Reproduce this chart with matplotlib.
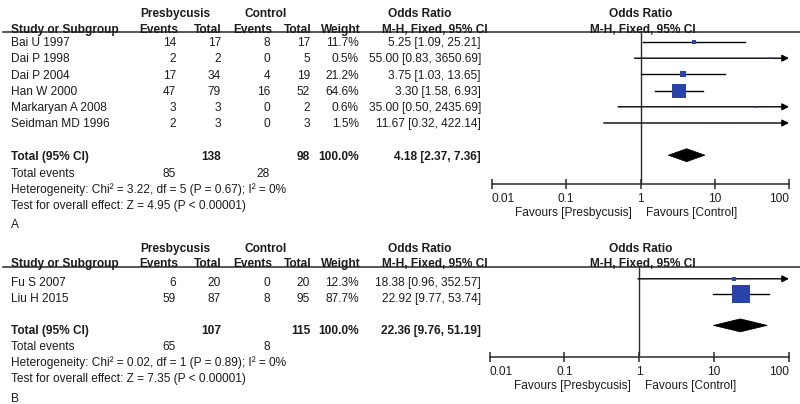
import matplotlib
matplotlib.use("Agg")
import matplotlib.pyplot as plt
from matplotlib.patches import Polygon
from matplotlib.ticker import NullLocator

plt.rcParams["font.family"] = ["Liberation Sans", "DejaVu Sans"]

# ---- panel A data ----
studies_a = ["Bai U 1997", "Dai P 1998", "Dai P 2004", "Han W 2000",
             "Markaryan A 2008", "Seidman MD 1996"]
events_p_a = [14, 2, 17, 47, 3, 2]
total_p_a = [17, 2, 34, 79, 3, 3]
events_c_a = [8, 0, 4, 16, 0, 0]
total_c_a = [17, 5, 19, 52, 2, 3]
weight_a = [11.7, 0.5, 21.2, 64.6, 0.6, 1.5]
or_a = [5.25, 55.00, 3.75, 3.30, 35.00, 11.67]
lo_a = [1.09, 0.83, 1.03, 1.58, 0.50, 0.32]
hi_a = [25.21, 3650.69, 13.65, 6.93, 2435.69, 422.14]
pooled_a = [4.18, 2.37, 7.36]
sum_total_a = [138, 98]
sum_events_a = [85, 28]
het_a = "Heterogeneity: Chi² = 3.22, df = 5 (P = 0.67); I² = 0%"
z_a = "Test for overall effect: Z = 4.95 (P < 0.00001)"

# ---- panel B data ----
studies_b = ["Fu S 2007", "Liu H 2015"]
events_p_b = [6, 59]
total_p_b = [20, 87]
events_c_b = [0, 8]
total_c_b = [20, 95]
weight_b = [12.3, 87.7]
or_b = [18.38, 22.92]
lo_b = [0.96, 9.77]
hi_b = [352.57, 53.74]
pooled_b = [22.36, 9.76, 51.19]
sum_total_b = [107, 115]
sum_events_b = [65, 8]
het_b = "Heterogeneity: Chi² = 0.02, df = 1 (P = 0.89); I² = 0%"
z_b = "Test for overall effect: Z = 7.35 (P < 0.00001)"

tick_vals = [0.01, 0.1, 1, 10, 100]
tick_labels = ["0.01", "0.1", "1", "10", "100"]

W, H = 800, 404
TXT = "#1c1c1c"
LINE = "#2a2a2a"
BLUE = "#2a43a8"
FS = 8.6

fig = plt.figure(figsize=(W / 100, H / 100), dpi=100)
bg = fig.add_axes([0, 0, 1, 1])
bg.set_xlim(0, W)
bg.set_ylim(H, 0)
bg.axis("off")


def put(x, y, s, ha="left", bold=False):
    # y is the visual centre of capitals, in pixels
    bg.text(x, y + 4.2, s, ha=ha, va="baseline", fontsize=FS, color=TXT,
            fontweight="bold" if bold else "normal")


def fmt_ci(e, lo, hi):
    return f"{e:.2f} [{lo:.2f}, {hi:.2f}]"


def draw_panel(top, step, rows0, mark_dy, x0, studies, ep, tp, ec, tc, w,
               est, lo, hi, pooled, sum_total, sum_events, het, zt, label):
    # header rows
    h1, h2, hline = top, top + 15.5, top + 19.3
    put(175, h1, "Presbycusis", "center", True)
    put(266, h1, "Control", "center", True)
    put(420, h1, "Odds Ratio", "center", True)
    put(641, h1, "Odds Ratio", "center", True)
    put(11, h2, "Study or Subgroup", bold=True)
    put(178, h2, "Events", "right", True)
    put(222, h2, "Total", "right", True)
    put(272, h2, "Events", "right", True)
    put(311, h2, "Total", "right", True)
    put(361, h2, "Weight", "right", True)
    put(435, h2, "M-H, Fixed, 95% CI", "center", True)
    put(643, h2, "M-H, Fixed, 95% CI", "center", True)
    bg.plot([3, W], [hline, hline], color=LINE, lw=1.1)

    ys = [rows0 + i * step for i in range(len(studies))]
    for y, s, a, b, c, d, ww, e, l, h in zip(ys, studies, ep, tp, ec, tc,
                                             w, est, lo, hi):
        put(11, y, s)
        put(176, y, str(a), "right")
        put(221, y, str(b), "right")
        put(270, y, str(c), "right")
        put(310, y, str(d), "right")
        put(359, y, f"{ww:.1f}%", "right")
        put(481, y, fmt_ci(e, l, h), "right")

    y_tot = ys[-1] + step * 2.05
    put(11, y_tot, "Total (95% CI)", bold=True)
    put(221, y_tot, str(sum_total[0]), "right", True)
    put(310, y_tot, str(sum_total[1]), "right", True)
    put(359, y_tot, "100.0%", "right", True)
    put(481, y_tot, fmt_ci(*pooled), "right", True)
    y_ev = y_tot + 16.5
    put(11, y_ev, "Total events")
    put(176, y_ev, str(sum_events[0]), "right")
    put(270, y_ev, str(sum_events[1]), "right")
    put(11, y_ev + 16.3, het)
    put(11, y_ev + 32.3, zt)
    put(11, y_ev + 51.5, label)

    # forest plot axes, y in pixel units
    y_axis = y_ev + 11.5
    ax = fig.add_axes([x0 / W, 1 - y_axis / H, (789 - x0) / W,
                       (y_axis - hline) / H])
    ax.set_xscale("log")
    ax.set_xlim(0.01, 100)
    ax.set_ylim(y_axis, hline)
    ax.patch.set_alpha(0)
    for sp in ["top", "left", "right"]:
        ax.spines[sp].set_visible(False)
    ax.spines["bottom"].set_color(LINE)
    ax.spines["bottom"].set_linewidth(1.1)
    ax.set_xticks(tick_vals)
    ax.set_xticklabels([])
    ax.xaxis.set_minor_locator(NullLocator())
    ax.tick_params(axis="x", direction="inout", length=7, width=1.1,
                   color=LINE)
    ax.set_yticks([])
    ax.axvline(1, color=LINE, lw=1)

    for v, t, ha in zip(tick_vals, tick_labels,
                        ["left", "center", "center", "center", "right"]):
        ax.text(v, y_axis + 18, t, ha=ha, va="baseline", fontsize=FS,
                color=TXT)
    put((x0 + 789) / 2 - 8.5, y_axis + 27.5, "Favours [Presbycusis]", "right")
    put((x0 + 789) / 2 + 5.5, y_axis + 27.5, "Favours [Control]", "left")

    for y, ww, e, l, h in zip(ys, w, est, lo, hi):
        ym = y + mark_dy
        if h > 100:
            ax.annotate("", xy=(100, ym), xytext=(l, ym),
                        arrowprops=dict(arrowstyle="-|>", color="black",
                                        lw=1, mutation_scale=10,
                                        shrinkA=0, shrinkB=0),
                        annotation_clip=False)
        else:
            ax.plot([l, h], [ym, ym], color="black", lw=1, zorder=2)
        side = 2.2 + 0.17 * ww
        ax.scatter([e], [ym], s=(side * 0.72) ** 2, marker="s", color=BLUE,
                   linewidths=0, zorder=3, clip_on=False)

    e, l, h = pooled
    yd = y_tot + mark_dy - 1
    ax.add_patch(Polygon([(l, yd), (e, yd - 6.5), (h, yd), (e, yd + 6.5)],
                         closed=True, facecolor="black", edgecolor="black",
                         lw=0.5, zorder=3))


draw_panel(13, 16.2, 42, 0, 492, studies_a, events_p_a, total_p_a,
           events_c_a, total_c_a, weight_a, or_a, lo_a, hi_a, pooled_a,
           sum_total_a, sum_events_a, het_a, z_a, "A")
draw_panel(247.5, 15.6, 281.8, -3, 489.5, studies_b, events_p_b, total_p_b,
           events_c_b, total_c_b, weight_b, or_b, lo_b, hi_b, pooled_b,
           sum_total_b, sum_events_b, het_b, z_b, "B")

fig.savefig("out.png", dpi=100, facecolor="white")
